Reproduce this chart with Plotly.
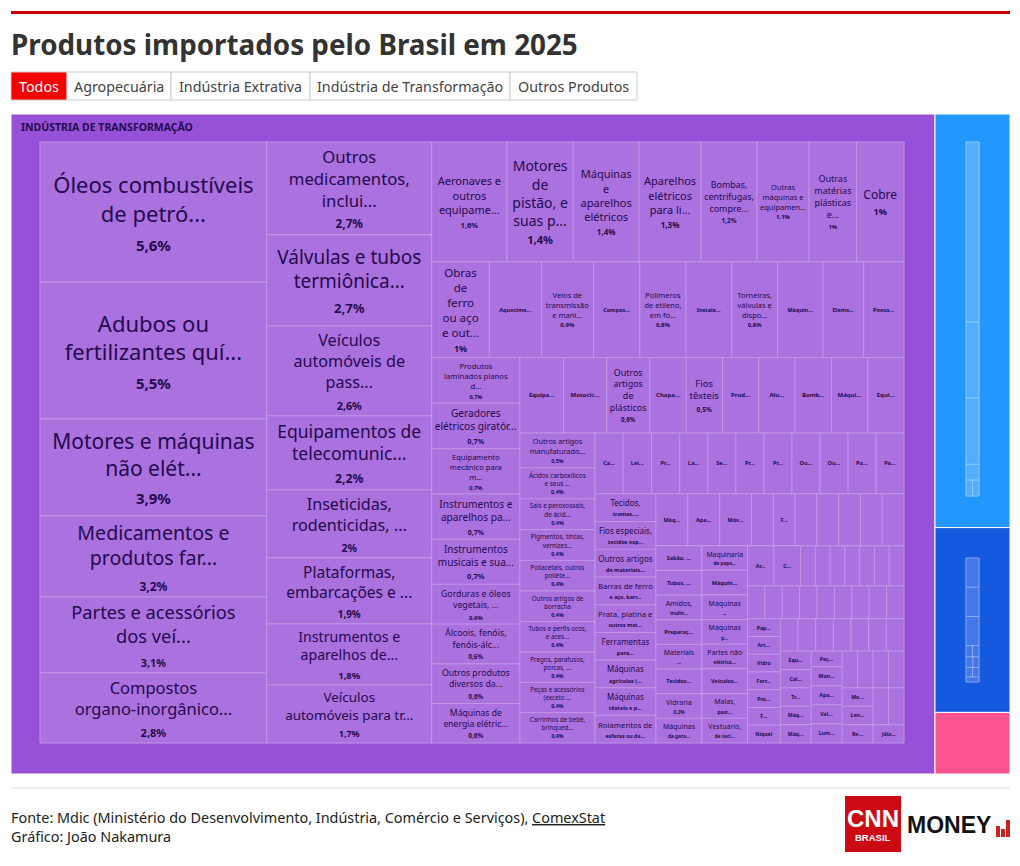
import plotly.graph_objects as go

W, H = 1020, 866
FONT = "Noto Sans"
RATIO = 2.1
TITLE = "Produtos importados pelo Brasil em 2025"
BUTTONS = ["Todos", "Agropecuária", "Indústria Extrativa", "Indústria de Transformação", "Outros Produtos"]

SECTORS = ["Indústria de Transformação", "Indústria Extrativa", "Agropecuária", "Outros Produtos"]
SECTOR_VALUES = [92.4, 4.7, 2.1, 0.7]
SECTOR_COLORS = ["#9750D8", "#2298FF", "#1459DE", "#FA5490"]

EXTRATIVA_VALUES = [2.39, 1.01, 0.88, 0.21, 0.105, 0.105]
AGRO_VALUES = [0.50, 0.50, 0.497, 0.096, 0.096, 0.096, 0.083, 0.083, 0.083, 0.083]

NAMES = [
    "Óleos combustíveis\nde petró...", "Adubos ou\nfertilizantes quí...", "Motores e máquinas\nnão elét...",
    "Medicamentos e\nprodutos far...", "Partes e acessórios\ndos veí...", "Compostos\norgano-inorgânico...",
    "Outros\nmedicamentos,\ninclui...", "Válvulas e tubos\ntermiônica...", "Veículos\nautomóveis de\npass...",
    "Equipamentos de\ntelecomunic...", "Inseticidas,\nrodenticidas, ...", "Plataformas,\nembarcações e ...",
    "Instrumentos e\naparelhos de...", "Veículos\nautomóveis para tr...",
    "Aeronaves e\noutros\nequipame...", "Motores\nde\npistão, e\nsuas p...", "Máquinas\ne\naparelhos\nelétricos",
    "Aparelhos\nelétricos\npara li...", "Bombas,\ncentrífugas,\ncompre...", "Outras\nmáquinas e\nequipamen...",
    "Outras\nmatérias\nplásticas\ne...", "Cobre",
    "Obras\nde\nferro\nou aço\ne out...", "", "Veios de\ntransmissão\ne mani...", "", "Polímeros\nde etileno,\nem fo...", "",
    "Torneiras,\nválvulas e\ndispo...", "", "", "",
    "Produtos\nlaminados planos\nd...", "Geradores\nelétricos giratór...", "Equipamento\nmecânico para\nm...",
    "Instrumentos e\naparelhos pa...", "Instrumentos\nmusicais e sua...", "Gorduras e óleos\nvegetais, ...",
    "Álcoois, fenóis,\nfenóis-álc...", "Outros produtos\ndiversos da...", "Máquinas de\nenergia elétric...",
    "", "", "Outros\nartigos\nde\nplásticos", "", "Fios\ntêxteis", "", "", "", "", "",
    "Outros artigos\nmanufaturado...", "Ácidos carboxílicos\ne seus ...", "Sais e peroxossais,\nde ácid...",
    "Pigmentos, tintas,\nvernizes...", "Poliacetais, outros\npoliéte...", "Outros artigos de\nborracha",
    "Tubos e perfis ocos,\ne aces...", "Pregos, parafusos,\nporcas, ...", "Peças e acessórios\n(exceto ...",
    "Carrinhos de bebê,\nbrinqued...",
    "", "", "", "", "", "", "", "", "", "", "",
    "Tecidos,", "Fios especiais,", "Outros artigos", "Barras de ferro", "Prata, platina e", "Ferramentas",
    "Máquinas", "Máquinas", "Rolamentos de",
    "", "", "", "", "", "", "", "", "", "",
    "", "", "Amidos,", "", "Materiais", "", "Vidraria", "Máquinas",
    "Maquinaria", "", "Máquinas", "Máquinas", "Partes não", "", "Malas,", "Vestuário,",
] + [""] * 52

SUBLABELS = [
    "5,6%", "5,5%", "3,9%", "3,2%", "3,1%", "2,8%",
    "2,7%", "2,7%", "2,6%", "2,2%", "2%", "1,9%", "1,8%", "1,7%",
    "1,6%", "1,4%", "1,4%", "1,3%", "1,2%", "1,1%", "1%", "1%",
    "1%", "Aquecime...", "0,9%", "Compos...", "0,8%", "Instala...", "0,8%", "Máquin...", "Eleme...", "Pneus...",
    "0,7%", "0,7%", "0,7%", "0,7%", "0,7%", "0,6%", "0,6%", "0,6%", "0,6%",
    "Equipa...", "Motocic...", "0,6%", "Chapa...", "0,5%", "Prod...", "Alu...", "Bomb...", "Máqui...", "Equi...",
    "0,5%", "0,4%", "0,4%", "0,4%", "0,4%", "0,4%", "0,4%", "0,4%", "0,4%", "0,4%",
    "Ca...", "Lei...", "Pr...", "La...", "Se...", "Pr...", "Pr...", "Ou...", "Ou...", "Po...", "Pa...",
    "tramas,...", "tecidos esp...", "de materiais...", "e aço, barr...", "outros met...", "para...",
    "agrícolas (...", "têxteis e p...", "esferas ou de...",
    "Máq...", "Apa...", "Móv...", "", "F...", "", "", "", "", "",
    "Sabão, ...", "Tubos, ...", "inulin...", "Preparaç...", "...", "Tecidos...", "0,2%", "da gara...",
    "de papa...", "Máquin...", "...", "p...", "elétrica...", "Veículos...", "past...", "de teci...",
    "Ar...", "C...", "", "", "", "", "", "", "",
    "", "", "", "", "", "", "", "", "",
    "Pap...", "Art...", "Vidro", "Ferr...", "Pro...", "F...", "Níquel",
    "", "", "", "", "", "", "",
    "Equ...", "Cal...", "Tr...", "Máq...", "Máq...",
    "Peç...", "Mon...", "Apa...", "Val...", "Lum...",
    "", "", "", "",
    "Me...", "Len...", "Re...",
    "", "", "Jóia...",
]

VALUES = [
    5.60, 5.48, 3.88, 3.24, 3.04, 2.80,
    2.70, 2.65, 2.61, 2.15, 1.98, 1.92, 1.77, 1.69,
    1.59, 1.40, 1.39, 1.31, 1.18, 1.10, 1.005, 1.00,
    0.975, 0.882, 0.877, 0.784, 0.779, 0.774, 0.774, 0.769, 0.686, 0.681,
    0.71, 0.71, 0.705, 0.705, 0.70, 0.62, 0.62, 0.615, 0.615,
    0.58, 0.575, 0.575, 0.483, 0.483, 0.483, 0.483, 0.483, 0.483, 0.483,
    0.46, 0.41, 0.408, 0.406, 0.405, 0.404, 0.403, 0.402, 0.401, 0.40,
    0.303, 0.302, 0.302, 0.301, 0.301, 0.300, 0.300, 0.300, 0.300, 0.299, 0.299,
    0.299, 0.299, 0.298, 0.298, 0.298, 0.298, 0.297, 0.297, 0.297,
    0.293, 0.293, 0.293, 0.200, 0.200, 0.200, 0.200, 0.200, 0.200, 0.200,
    0.200, 0.200, 0.200, 0.200, 0.200, 0.200, 0.200, 0.200,
    0.195, 0.198, 0.198, 0.198, 0.198, 0.198, 0.198, 0.198,
    0.187, 0.187, 0.104, 0.104, 0.104, 0.104, 0.104, 0.104, 0.104,
    0.101, 0.101, 0.101, 0.101, 0.101, 0.101, 0.101, 0.101, 0.101,
    0.103, 0.103, 0.103, 0.103, 0.103, 0.103, 0.103,
    0.101, 0.101, 0.101, 0.101, 0.101, 0.101, 0.101,
    0.100, 0.100, 0.100, 0.100, 0.100,
    0.085, 0.104, 0.104, 0.104, 0.104,
    0.100, 0.100, 0.100, 0.100,
    0.100, 0.100, 0.100,
    0.100, 0.100, 0.100,
]

NAME_SIZES = (
    [22, 22, 21, 22.8, 23.6, 19.5, 18.5, 19, 19.5, 18.7, 20, 20.5, 18, 18]
    + [11, 14, 11, 11, 9, 7.5, 9, 12, 13.5, 6, 7.5, 6, 7.5, 6, 7.5, 6, 6, 6]
    + [10.5, 10.5, 10, 11, 10, 11, 10.5, 10.5, 10]
    + [6, 6, 9.5, 6, 9.5, 6, 6, 6, 6, 6]
    + [9, 7.7, 7.7, 7.7, 7.7, 7.7, 7.7, 7.7, 7.7, 7.7]
    + [6] * 11 + [8] * 9 + [6] * 10 + [8] * 16 + [6] * 52
)
SUB_SIZES = (
    [15, 15, 15, 14, 14, 13, 13, 13, 13, 13, 13, 13, 12, 12]
    + [7.5, 11, 8, 8, 6.5, 6, 6, 9, 10.5, 5.5, 6, 5.5, 6, 5.5, 6, 5.5, 5.5, 5.5]
    + [7.5] * 9
    + [6, 6, 6.5, 6, 6.5, 6, 6, 6, 6, 6]
    + [6.5] * 10
    + [5.5] * 11 + [5.5] * 9 + [5.5] * 10 + [5.5] * 16 + [5.2] * 52
)


def px_x(x):
    return x / W


def px_y(y):
    return 1 - y / H


def domain(x0, x1, y0, y1):
    return dict(x=[px_x(x0), px_x(x1)], y=[px_y(y1), px_y(y0)])


def tile_text(name, sub, sub_size):
    parts = []
    if name:
        parts.append(name.replace("\n", "<br>"))
    if sub:
        parts.append(f'<span style="font-size:{sub_size}px"><b>{sub}</b></span>')
    return "<br>".join(parts)


def plain_map(prefix, values, fill, dom, line):
    ids = [f"{prefix}{i}" for i in range(len(values))]
    return go.Treemap(
        ids=[prefix] + ids,
        labels=[prefix] + ids,
        parents=[""] + [prefix] * len(ids),
        values=[0] + values,
        text=[""] * (len(ids) + 1),
        textinfo="text",
        hoverinfo="skip",
        domain=dom,
        sort=False,
        marker=dict(colors=["rgba(0,0,0,0)"] + [fill] * len(ids),
                    line=dict(color=line, width=1),
                    pad=dict(t=0, l=0, r=0, b=0)),
        tiling=dict(packing="squarify", squarifyratio=RATIO, pad=0),
        pathbar=dict(visible=False),
    )


fig = go.Figure()

# sector level
fig.add_trace(go.Treemap(
    ids=["Brasil"] + SECTORS,
    labels=["Brasil"] + SECTORS,
    parents=[""] + ["Brasil"] * len(SECTORS),
    values=[0] + SECTOR_VALUES,
    text=[""] * (len(SECTORS) + 1),
    textinfo="text",
    hoverinfo="skip",
    domain=domain(11, 1010, 114, 774),
    marker=dict(colors=["rgba(0,0,0,0)"] + SECTOR_COLORS,
                line=dict(color="#ffffff", width=1),
                pad=dict(t=0, l=0, r=0, b=0)),
    tiling=dict(packing="squarify", squarifyratio=RATIO, pad=0),
    pathbar=dict(visible=False),
))

# products of Indústria de Transformação
ids = [f"p{i}" for i in range(len(VALUES))]
texts = [tile_text(n, s, z) for n, s, z in zip(NAMES, SUBLABELS, SUB_SIZES)]
fig.add_trace(go.Treemap(
    ids=["root"] + ids,
    labels=["root"] + ids,
    parents=[""] + ["root"] * len(ids),
    values=[0] + VALUES,
    text=[""] + texts,
    textinfo="text",
    textposition="middle center",
    textfont=dict(family=FONT, color="#240A4E", size=[6] + NAME_SIZES),
    hoverinfo="skip",
    domain=domain(40, 904, 142, 743),
    sort=False,
    marker=dict(colors=["rgba(0,0,0,0)"] + ["#AB71DF"] * len(ids),
                line=dict(color="rgba(255,255,255,0.22)", width=1),
                pad=dict(t=0, l=0, r=0, b=0)),
    tiling=dict(packing="squarify", squarifyratio=RATIO, pad=0),
    pathbar=dict(visible=False),
))

fig.add_trace(plain_map("ext", EXTRATIVA_VALUES, "#55ADFF", domain(966, 979, 142, 496), "rgba(255,255,255,0.3)"))
fig.add_trace(plain_map("agr", AGRO_VALUES, "#4378E8", domain(966, 979, 558, 682), "rgba(255,255,255,0.3)"))

shapes = [
    dict(type="rect", xref="paper", yref="paper", x0=px_x(11), x1=px_x(1010), y0=px_y(14), y1=px_y(11),
         fillcolor="#CC0000", line=dict(width=0)),
    dict(type="line", xref="paper", yref="paper", x0=px_x(11), x1=px_x(1010), y0=px_y(788), y1=px_y(788),
         line=dict(color="#DDDDDD", width=1)),
    dict(type="rect", xref="paper", yref="paper", x0=px_x(845), x1=px_x(901), y0=px_y(852), y1=px_y(796),
         fillcolor="#CC0A14", line=dict(width=0)),
]
for x0, x1, top in [(996, 1000, 826), (1001, 1005, 829), (1006, 1010, 820)]:
    shapes.append(dict(type="rect", xref="paper", yref="paper", x0=px_x(x0), x1=px_x(x1), y0=px_y(837), y1=px_y(top),
                       fillcolor="#CC2222", line=dict(width=0)))

annotations = [
    dict(text=f"<b>{TITLE}</b>", x=px_x(9), y=px_y(44), xanchor="left", yanchor="middle", showarrow=False,
         font=dict(family=FONT, size=27.8, color="#333333")),
    dict(text="<b>INDÚSTRIA DE TRANSFORMAÇÃO</b>", x=px_x(19), y=px_y(127), xanchor="left", yanchor="middle",
         showarrow=False, font=dict(family=FONT, size=10.5, color="#240A4E")),
    dict(text="Fonte: Mdic (Ministério do Desenvolvimento, Indústria, Comércio e Serviços), <u>ComexStat</u>",
         x=px_x(9), y=px_y(817), xanchor="left", yanchor="middle", showarrow=False,
         font=dict(family=FONT, size=14.4, color="#222222")),
    dict(text="Gráfico: João Nakamura", x=px_x(9), y=px_y(836), xanchor="left", yanchor="middle", showarrow=False,
         font=dict(family=FONT, size=14.4, color="#222222")),
    dict(text="<b>CNN</b>", x=px_x(873), y=px_y(818), xanchor="center", yanchor="middle", showarrow=False,
         font=dict(family="Liberation Sans", size=24, color="#FFFFFF")),
    dict(text="<b>BRASIL</b>", x=px_x(873), y=px_y(837), xanchor="center", yanchor="middle", showarrow=False,
         font=dict(family="Liberation Sans", size=9.5, color="#FFFFFF")),
    dict(text="<b>MONEY</b>", x=px_x(905), y=px_y(825), xanchor="left", yanchor="middle", showarrow=False,
         font=dict(family="Liberation Sans", size=23, color="#111111")),
]

BUTTON_EDGES = [11, 67, 171, 310, 510, 637]
for i, label in enumerate(BUTTONS):
    active = i == 0
    x0, x1 = BUTTON_EDGES[i], BUTTON_EDGES[i + 1]
    shapes.append(dict(type="rect", xref="paper", yref="paper", x0=px_x(x0), x1=px_x(x1), y0=px_y(100), y1=px_y(72),
                       fillcolor="#F80000" if active else "#FFFFFF", line=dict(color="#CCCCCC", width=1)))
    annotations.append(dict(text=label, x=px_x((x0 + x1) / 2), y=px_y(86), xanchor="center", yanchor="middle",
                            showarrow=False,
                            font=dict(family=FONT, size=14.3, color="#FFFFFF" if active else "#444444")))

fig.update_layout(width=W, height=H, margin=dict(l=0, r=0, t=0, b=0), paper_bgcolor="#FFFFFF",
                  shapes=shapes, annotations=annotations, showlegend=False)

fig.write_html("out.html", config={"displayModeBar": False},
               post_script="document.body.style.margin='0';document.documentElement.style.overflow='hidden';")
